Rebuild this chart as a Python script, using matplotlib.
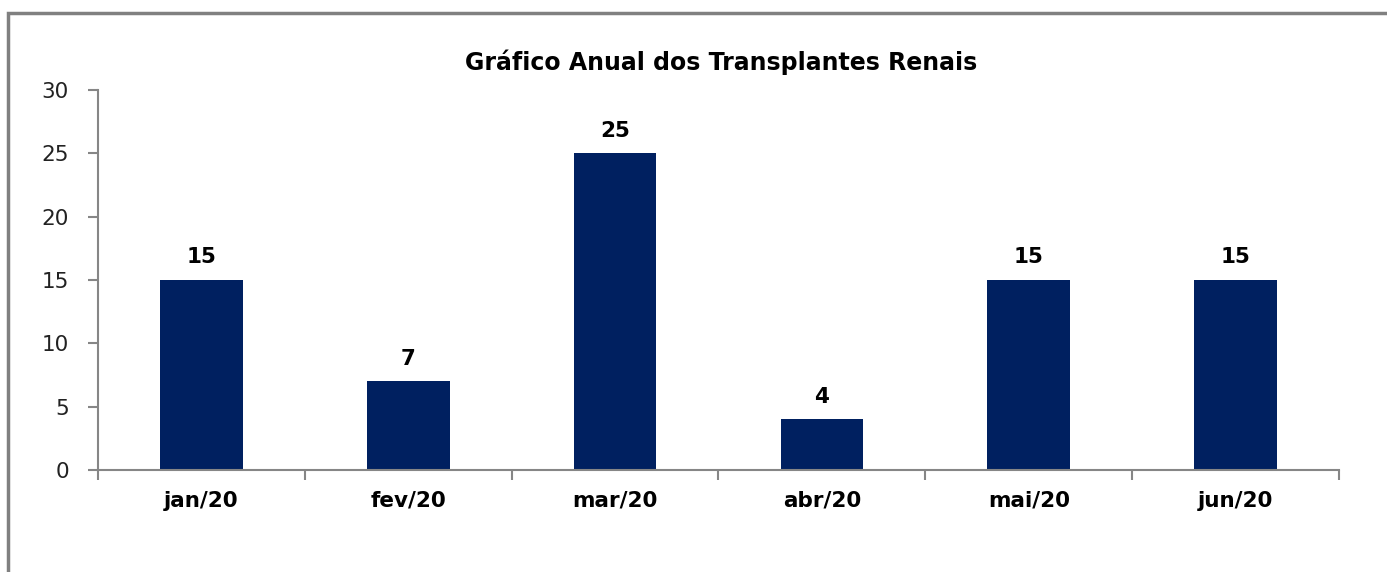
import matplotlib.pyplot as plt
from matplotlib.patches import Rectangle

# Dados
meses = ['jan/20', 'fev/20', 'mar/20', 'abr/20', 'mai/20', 'jun/20']
transplantes = [15, 7, 25, 4, 15, 15]
y_ticks = [0, 5, 10, 15, 20, 25, 30]

W, H = 1387, 572
fig = plt.figure(figsize=(W / 100, H / 100), dpi=100)
ax = fig.add_axes([98 / W, 1 - 470 / H, (1339 - 98) / W, (470 - 90) / H])

x = list(range(len(meses)))
ax.bar(x, transplantes, width=0.4, color='#002060', zorder=2)

# Rótulos de valores
for xi, v in zip(x, transplantes):
    ax.text(xi, v + 1.0, str(v), ha='center', va='bottom',
            fontsize=15.5, fontweight='bold', color='black')

ax.set_xlim(-0.5, len(meses) - 0.5)
ax.set_ylim(0, 30)
ax.set_yticks(y_ticks)
ax.tick_params(axis='y', labelsize=15.5, colors='#868686', labelcolor='#222222',
               length=7, width=1.5, pad=14)

# Marcas do eixo X nos limites das categorias
ax.set_xticks([i - 0.5 for i in range(len(meses) + 1)], minor=False)
ax.set_xticklabels([])
ax.set_xticks(x, minor=True)
ax.set_xticklabels(meses, minor=True, fontsize=15.5, fontweight='bold')
ax.tick_params(axis='x', which='major', colors='#868686', length=7, width=1.5)
ax.tick_params(axis='x', which='minor', length=0, pad=15, labelcolor='black')

for side in ['top', 'right']:
    ax.spines[side].set_visible(False)
for side in ['left', 'bottom']:
    ax.spines[side].set_color('#868686')
    ax.spines[side].set_linewidth(1.5)

fig.text(721 / W, 1 - 62 / H, 'Gráfico Anual dos Transplantes Renais',
         ha='center', va='center', fontsize=17, fontweight='bold')

# Borda do gráfico
fig.patches.append(Rectangle((8 / W, -0.1), 1.2, 1 - 13 / H + 0.1,
                             transform=fig.transFigure, fill=False,
                             edgecolor='#808080', linewidth=2.5))

fig.savefig('out.png', dpi=100)
